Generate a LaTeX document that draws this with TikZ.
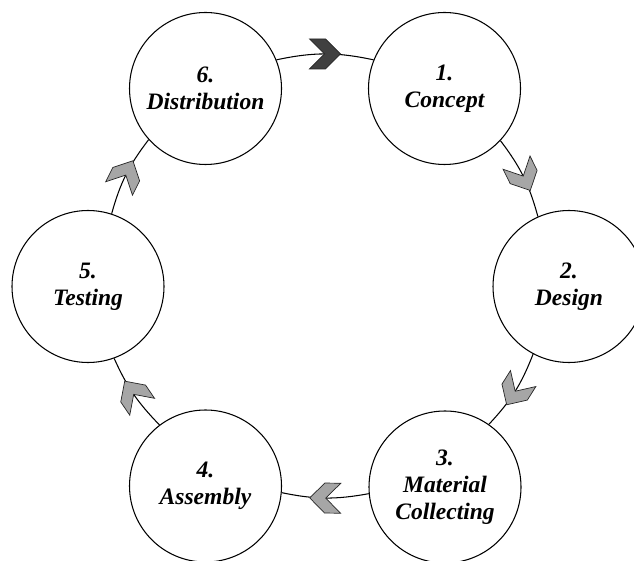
\documentclass[tikz,border=0pt]{standalone}
\usepackage{fontspec}
\setmainfont{Liberation Serif}
\usetikzlibrary{shapes.symbols}

\begin{document}
\begin{tikzpicture}[line width=0.6pt,
stage/.style={circle, draw, fill=white, minimum size=30.4mm, inner sep=0pt, align=center,
  font=\fontsize{13.4}{15.4}\selectfont\bfseries\itshape},
chev/.style={signal, signal from=west, signal to=east, draw=black!85, line width=0.4pt,
  minimum width=6.2mm, minimum height=6mm, inner sep=0pt, sloped, allow upside down},
lightchev/.style={chev, fill=black!35},
darkchev/.style={chev, fill=black!75}]
\useasboundingbox (0,0) rectangle (12.68,11.2);
\node (c1) at (8.89,9.43) [stage] {1.\\Concept};
\node (c2) at (11.38,5.47) [stage] {2.\\Design};
\node (c3) at (8.90,1.46) [stage] {3.\\Material\\Collecting};
\node (c4) at (4.11,1.48) [stage] {4.\\Assembly};
\node (c5) at (1.76,5.47) [stage] {5.\\Testing};
\node (c6) at (4.11,9.43) [stage] {6.\\Distribution};
\draw (c6.22) to [bend left=12] node [darkchev] {} (c1.158);
\draw (c1.317) to [bend left=11] node [lightchev] {} (c2.114);
\draw (c2.242) to [bend left=11] node [lightchev] {} (c3.55);
\draw (c3.185) to [bend left=11] node [lightchev] {} (c4.355);
\draw (c4.127) to [bend left=10] node [lightchev] {} (c5.290);
\draw (c5.72) to [bend left=11] node [lightchev] {} (c6.222);
\end{tikzpicture}
\end{document}
